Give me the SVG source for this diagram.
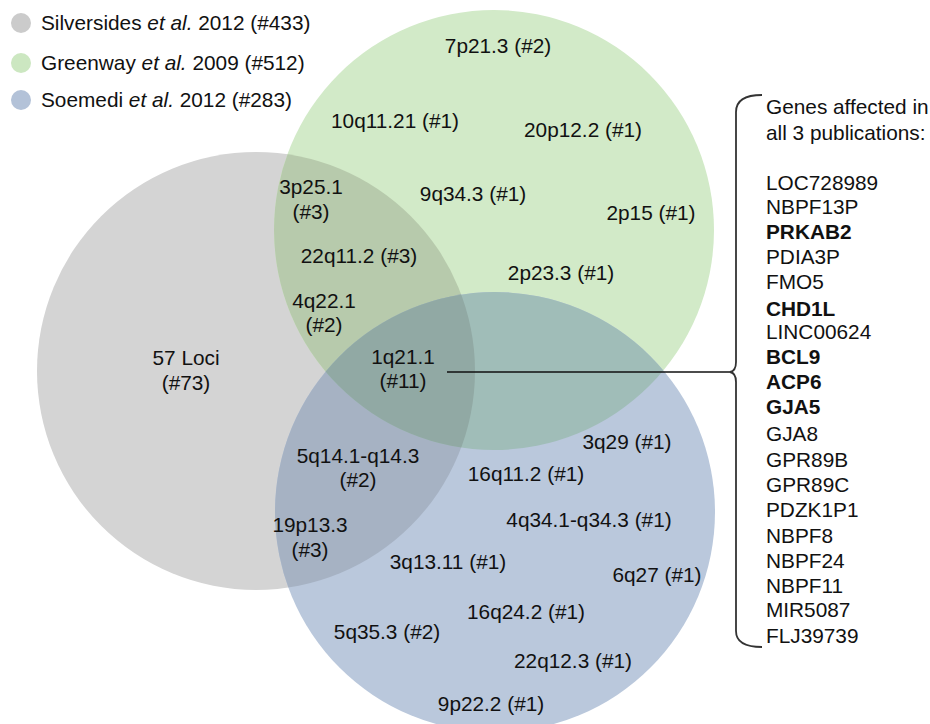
<svg xmlns="http://www.w3.org/2000/svg" width="930" height="724" viewBox="0 0 930 724">
  <style>
    text { font-family: "Liberation Sans", Arial, sans-serif; font-size: 20.8px; fill: #111; }
    .c { text-anchor: middle; }
    .b { font-weight: bold; }
    .i { font-style: italic; }
    .brace { fill: none; stroke: #333; stroke-width: 1.8; }
    .link { stroke: #111; stroke-width: 1.6; }
  </style>
  <defs>
    <clipPath id="clipGray"><circle cx="256" cy="371" r="219"/></clipPath>
    <clipPath id="clipGreen"><circle cx="494" cy="230" r="220"/></clipPath>
    <clipPath id="clipBlue"><circle cx="495" cy="512" r="220"/></clipPath>
  </defs>

  <rect width="930" height="724" fill="#ffffff"/>

  <!-- Venn sets -->
  <g id="sets">
    <circle id="set-silversides" cx="256" cy="371" r="219" fill="#d4d4d4"/>
    <circle id="set-greenway" cx="494" cy="230" r="220" fill="#d2eac8"/>
    <circle id="set-soemedi" cx="495" cy="512" r="220" fill="#bac8dc"/>
    <!-- pairwise overlaps -->
    <circle cx="494" cy="230" r="220" fill="#b7caac" clip-path="url(#clipGray)"/>
    <circle cx="495" cy="512" r="220" fill="#a6b2c3" clip-path="url(#clipGray)"/>
    <circle cx="495" cy="512" r="220" fill="#a0bdb8" clip-path="url(#clipGreen)"/>
    <!-- triple overlap -->
    <g clip-path="url(#clipGray)">
      <circle cx="495" cy="512" r="220" fill="#91a9a4" clip-path="url(#clipGreen)"/>
    </g>
  </g>

  <!-- Legend -->
  <g id="legend">
    <circle cx="21" cy="23" r="10" fill="#cbcbcb"/>
    <text x="41" y="30">Silversides <tspan class="i">et al.</tspan> 2012 (#433)</text>
    <circle cx="21" cy="63" r="10" fill="#cce7c1"/>
    <text x="41" y="70">Greenway <tspan class="i">et al.</tspan> 2009 (#512)</text>
    <circle cx="21" cy="100" r="10" fill="#b3c2d8"/>
    <text x="41" y="107">Soemedi <tspan class="i">et al.</tspan> 2012 (#283)</text>
  </g>

  <!-- Loci labels -->
  <g id="loci">
    <text class="c" x="498" y="53">7p21.3 (#2)</text>
    <text class="c" x="395" y="128">10q11.21 (#1)</text>
    <text class="c" x="583" y="137">20p12.2 (#1)</text>
    <text class="c" x="311" y="194">3p25.1</text>
    <text class="c" x="311" y="219">(#3)</text>
    <text class="c" x="473" y="201">9q34.3 (#1)</text>
    <text class="c" x="651" y="220">2p15 (#1)</text>
    <text class="c" x="359" y="263">22q11.2 (#3)</text>
    <text class="c" x="561" y="280">2p23.3 (#1)</text>
    <text class="c" x="324" y="308">4q22.1</text>
    <text class="c" x="324" y="332">(#2)</text>
    <text class="c" x="186" y="365">57 Loci</text>
    <text class="c" x="186" y="390">(#73)</text>
    <text class="c" x="403" y="364">1q21.1</text>
    <text class="c" x="403" y="388">(#11)</text>
    <text class="c" x="627" y="449">3q29 (#1)</text>
    <text class="c" x="358" y="463">5q14.1-q14.3</text>
    <text class="c" x="358" y="487">(#2)</text>
    <text class="c" x="526" y="481">16q11.2 (#1)</text>
    <text class="c" x="589" y="527">4q34.1-q34.3 (#1)</text>
    <text class="c" x="310" y="532">19p13.3</text>
    <text class="c" x="310" y="557">(#3)</text>
    <text class="c" x="448" y="569">3q13.11 (#1)</text>
    <text class="c" x="657" y="582">6q27 (#1)</text>
    <text class="c" x="526" y="619">16q24.2 (#1)</text>
    <text class="c" x="387" y="639">5q35.3 (#2)</text>
    <text class="c" x="573" y="668">22q12.3 (#1)</text>
    <text class="c" x="491" y="711">9p22.2 (#1)</text>
  </g>

  <!-- Connector from the triple overlap to the gene list -->
  <g id="connectors">
    <line class="link" x1="447" y1="372" x2="731" y2="372"/>
    <path class="brace" d="M 762 95 Q 736 95 736 112 L 736 362 Q 736 371 730 372 Q 736 373 736 382 L 736 631 Q 736 647 762 647"/>
  </g>

  <!-- Gene list -->
  <g id="genes">
    <text x="766" y="114">Genes affected in</text>
    <text x="766" y="140">all 3 publications:</text>
    <text x="766" y="190">LOC728989</text>
    <text x="766" y="214">NBPF13P</text>
    <text x="766" y="239" class="b">PRKAB2</text>
    <text x="766" y="264">PDIA3P</text>
    <text x="766" y="289">FMO5</text>
    <text x="766" y="316" class="b">CHD1L</text>
    <text x="766" y="339">LINC00624</text>
    <text x="766" y="364" class="b">BCL9</text>
    <text x="766" y="389" class="b">ACP6</text>
    <text x="766" y="414" class="b">GJA5</text>
    <text x="766" y="441">GJA8</text>
    <text x="766" y="467">GPR89B</text>
    <text x="766" y="492">GPR89C</text>
    <text x="766" y="517">PDZK1P1</text>
    <text x="766" y="543">NBPF8</text>
    <text x="766" y="568">NBPF24</text>
    <text x="766" y="593">NBPF11</text>
    <text x="766" y="617">MIR5087</text>
    <text x="766" y="643">FLJ39739</text>
  </g>
</svg>
